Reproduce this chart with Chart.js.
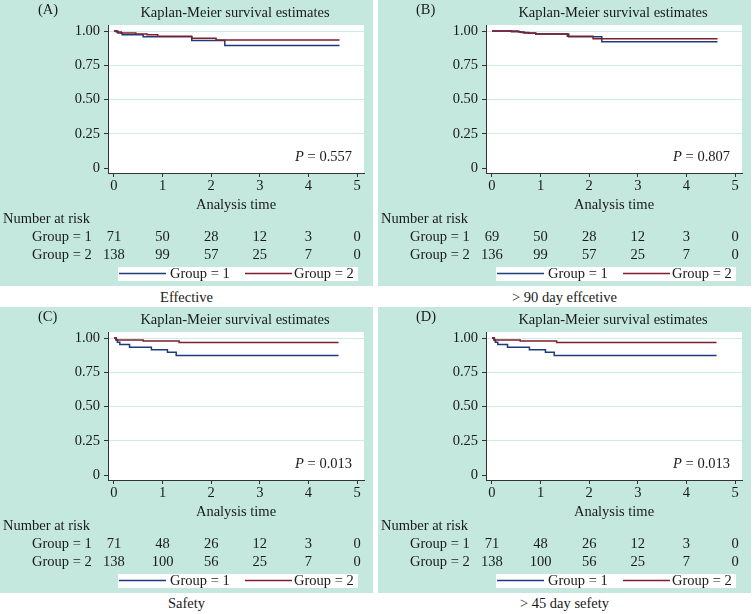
<!DOCTYPE html>
<html><head><meta charset="utf-8">
<script src="https://cdn.jsdelivr.net/npm/chart.js@4/dist/chart.umd.min.js"></script>
<style>
html,body{margin:0;padding:0;background:#fff;}
body{width:756px;height:614px;position:relative;overflow:hidden;font-family:"Liberation Serif",serif;}
.panel{position:absolute;width:373px;height:286px;background:#c4e8dd;}
.panel canvas{position:absolute;left:0;top:0;}
.cap{position:absolute;width:373px;text-align:center;font-size:14.5px;line-height:16px;color:#1a1a1a;}
</style></head><body>
<div class="panel" style="left:0;top:0"><canvas id="cA" width="373" height="286"></canvas></div>
<div class="panel" style="left:378px;top:0"><canvas id="cB" width="373" height="286"></canvas></div>
<div class="panel" style="left:0;top:307px"><canvas id="cC" width="373" height="286"></canvas></div>
<div class="panel" style="left:378px;top:307px"><canvas id="cD" width="373" height="286"></canvas></div>
<div class="cap" id="capA" style="left:0;top:289px"></div>
<div class="cap" id="capB" style="left:378px;top:289px"></div>
<div class="cap" id="capC" style="left:0;top:595px"></div>
<div class="cap" id="capD" style="left:378px;top:595px"></div>
<script>
// ---- data ----
const timeTicks = [0, 1, 2, 3, 4, 5];
const survTicks = [0, 0.25, 0.5, 0.75, 1];
const survTickLabels = ['0', '0.25', '0.50', '0.75', '1.00'];
const groupLabels = ['Group = 1', 'Group = 2'];

const A_g1_time = [0, 0.08, 0.17, 0.6, 1.6, 2.28, 4.64];
const A_g1_surv = [1, 0.986, 0.972, 0.958, 0.93, 0.895, 0.895];
const A_g2_time = [0, 0.05, 0.15, 0.45, 0.68, 0.9, 1.6, 2.1, 4.64];
const A_g2_surv = [1, 0.993, 0.986, 0.979, 0.972, 0.962, 0.948, 0.934, 0.934];
const A_risk1 = [71, 50, 28, 12, 3, 0];
const A_risk2 = [138, 99, 57, 25, 7, 0];

const B_g1_time = [0, 0.55, 0.66, 0.9, 1.58, 2.26, 4.64];
const B_g1_surv = [1, 0.993, 0.985, 0.978, 0.958, 0.922, 0.922];
const B_g2_time = [0, 0.4, 0.6, 0.75, 0.9, 1.55, 2.08, 4.64];
const B_g2_surv = [1, 0.995, 0.99, 0.983, 0.978, 0.962, 0.944, 0.944];
const B_risk1 = [69, 50, 28, 12, 3, 0];
const B_risk2 = [136, 99, 57, 25, 7, 0];

const C_g1_time = [0, 0.04, 0.07, 0.12, 0.32, 0.77, 1.1, 1.28, 4.62];
const C_g1_surv = [1, 0.985, 0.97, 0.952, 0.932, 0.915, 0.896, 0.872, 0.872];
const C_g2_time = [0, 0.05, 0.6, 1.34, 4.62];
const C_g2_surv = [1, 0.986, 0.978, 0.967, 0.967];
const C_risk1 = [71, 48, 26, 12, 3, 0];
const C_risk2 = [138, 100, 56, 25, 7, 0];

const D_g1_time = [0, 0.04, 0.07, 0.12, 0.32, 0.77, 1.1, 1.28, 4.62];
const D_g1_surv = [1, 0.985, 0.97, 0.952, 0.932, 0.915, 0.896, 0.872, 0.872];
const D_g2_time = [0, 0.05, 0.58, 1.33, 4.62];
const D_g2_surv = [1, 0.986, 0.978, 0.967, 0.967];
const D_risk1 = [71, 48, 26, 12, 3, 0];
const D_risk2 = [138, 100, 56, 25, 7, 0];

const panelLetters = ['(A)', '(B)', '(C)', '(D)'];
const pValues = ['0.557', '0.807', '0.013', '0.013'];
const captions = ['Effective', '> 90 day effcetive', 'Safety', '> 45 day sefety'];
const chartTitle = 'Kaplan-Meier survival estimates';
const xTitle = 'Analysis time';
const riskTitle = 'Number at risk';

// ---- style ----
const FONT = '"Liberation Serif", "Times New Roman", serif';
const FS = 14.5;
const TXT = '#1a1a1a';
const BLUE = 'rgb(30,60,125)';
const RED = 'rgb(128,30,45)';
const GRID = '#cdece2';
const AX = '#333';

const panelText = {
  id: 'panelText',
  beforeDraw(chart) {
    const { ctx, chartArea: a } = chart;
    ctx.save();
    ctx.fillStyle = '#fff';
    ctx.fillRect(a.left, a.top, a.right - a.left, a.bottom - a.top);
    ctx.restore();
  },
  afterDraw(chart, args, o) {
    const { ctx } = chart;
    const xs = chart.scales.x;
    const f = FS + 'px ' + FONT;
    ctx.save();
    ctx.fillStyle = TXT;
    ctx.textBaseline = 'middle';
    ctx.font = f;
    ctx.textAlign = 'left';
    ctx.fillText(o.letter, 38, 10);
    ctx.textAlign = 'center';
    ctx.fillText(chartTitle, 235, 13);
    ctx.fillText(xTitle, 236, 205);
    // P value
    ctx.textAlign = 'left';
    const rest = ' = ' + o.p;
    const wRest = ctx.measureText(rest).width;
    ctx.font = 'italic ' + f;
    const wP = ctx.measureText('P').width;
    const x0 = 352 - wRest - wP;
    ctx.fillText('P', x0, 157);
    ctx.font = f;
    ctx.fillText(rest, x0 + wP, 157);
    // risk table
    ctx.fillText(riskTitle, 3, 219);
    ctx.fillText(groupLabels[0], 32, 237);
    ctx.fillText(groupLabels[1], 32, 255);
    ctx.textAlign = 'center';
    timeTicks.forEach((t, i) => {
      const px = xs.getPixelForValue(t);
      ctx.fillText(String(o.r1[i]), px, 237);
      ctx.fillText(String(o.r2[i]), px, 255);
    });
    // legend
    ctx.fillStyle = '#fff';
    ctx.fillRect(118, 267, 240, 14);
    ctx.lineWidth = 1.4;
    ctx.strokeStyle = BLUE;
    ctx.beginPath(); ctx.moveTo(119, 273.5); ctx.lineTo(166, 273.5); ctx.stroke();
    ctx.strokeStyle = RED;
    ctx.beginPath(); ctx.moveTo(245, 273.5); ctx.lineTo(292, 273.5); ctx.stroke();
    ctx.fillStyle = TXT;
    ctx.textAlign = 'left';
    ctx.fillText(groupLabels[0], 170, 274);
    ctx.fillText(groupLabels[1], 294, 274);
    ctx.restore();
  }
};

function toPts(t, s) { return t.map((v, i) => ({ x: v, y: s[i] })); }

function makePanel(id, k, g1t, g1s, g2t, g2s, r1, r2) {
  new Chart(document.getElementById(id), {
    type: 'line',
    data: {
      datasets: [
        { label: groupLabels[1], data: toPts(g2t, g2s), borderColor: RED, borderWidth: 1.5, stepped: true, pointRadius: 0, fill: false },
        { label: groupLabels[0], data: toPts(g1t, g1s), borderColor: BLUE, borderWidth: 1.5, stepped: true, pointRadius: 0, fill: false }
      ]
    },
    options: {
      responsive: false, animation: false, events: [],
      layout: { padding: { left: 0, top: 25, right: 9, bottom: 83 } },
      plugins: {
        legend: { display: false }, tooltip: { enabled: false },
        panelText: { letter: panelLetters[k], p: pValues[k], r1: r1, r2: r2 }
      },
      scales: {
        x: {
          type: 'linear', min: -0.123, max: 5.144,
          afterBuildTicks: s => { s.ticks = timeTicks.map(v => ({ value: v })); },
          afterFit: s => { s.height = 30; },
          grid: { drawOnChartArea: false, drawTicks: true, tickLength: 4, tickColor: AX },
          border: { display: true, color: AX, width: 1 },
          ticks: { color: TXT, font: { family: FONT, size: FS }, padding: 0, maxRotation: 0, autoSkip: false, callback: v => String(v) }
        },
        y: {
          type: 'linear', min: -0.036, max: 1.044,
          afterBuildTicks: s => { s.ticks = survTicks.map(v => ({ value: v })); },
          afterFit: s => { s.width = 108; },
          grid: { color: c => (c.tick && c.tick.value === 0) ? 'rgba(0,0,0,0)' : GRID, tickColor: AX, tickLength: 4, lineWidth: 1 },
          border: { display: true, color: AX, width: 1 },
          ticks: { color: TXT, font: { family: FONT, size: FS }, padding: 4, autoSkip: false,
                   callback: v => survTickLabels[survTicks.indexOf(v)] }
        }
      }
    },
    plugins: [panelText]
  });
}

makePanel('cA', 0, A_g1_time, A_g1_surv, A_g2_time, A_g2_surv, A_risk1, A_risk2);
makePanel('cB', 1, B_g1_time, B_g1_surv, B_g2_time, B_g2_surv, B_risk1, B_risk2);
makePanel('cC', 2, C_g1_time, C_g1_surv, C_g2_time, C_g2_surv, C_risk1, C_risk2);
makePanel('cD', 3, D_g1_time, D_g1_surv, D_g2_time, D_g2_surv, D_risk1, D_risk2);
['capA', 'capB', 'capC', 'capD'].forEach((id, i) => { document.getElementById(id).textContent = captions[i]; });
</script>
</body></html>
